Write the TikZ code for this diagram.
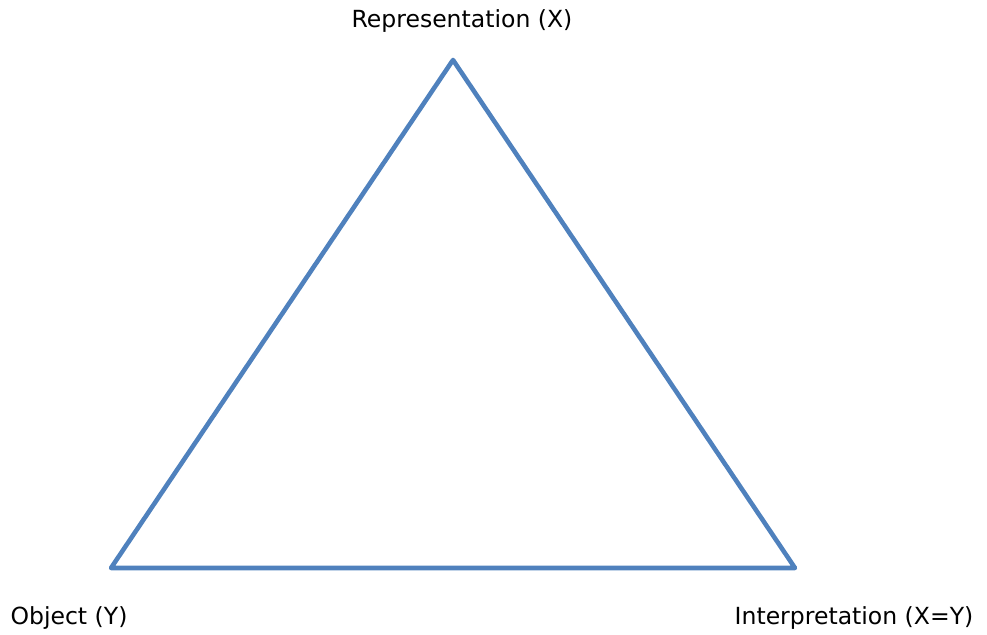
\documentclass[tikz,border=0pt]{standalone}
\usepackage{fontspec}
\setmainfont{DejaVu Sans}
\usepackage{xcolor}
\usepackage{tikz}
\usetikzlibrary{positioning}
\definecolor{edgeblue}{RGB}{79,129,189}
\tikzset{
  side/.style={line width=2.6pt, edgeblue, line join=round},
  lbl/.style={inner sep=0pt, font=\fontsize{13.4}{15}\selectfont, text=black},
}

\begin{document}
\begin{tikzpicture}[x=0.02cm, y=-0.02cm]
\useasboundingbox (0,0) rectangle (987,635);
\coordinate (rep) at (453,60);
\coordinate (obj) at (111,568);
\coordinate (int) at (795,568);
\draw[side] (rep) -- (int) -- (obj) -- cycle;
\node[lbl] (replbl) at (462,21) {Representation (X)};
\node[lbl] (objlbl) at (69,618) {Object (Y)};
\node[lbl] (intlbl) at (854,618) {Interpretation (X=Y)};
\end{tikzpicture}
\end{document}
